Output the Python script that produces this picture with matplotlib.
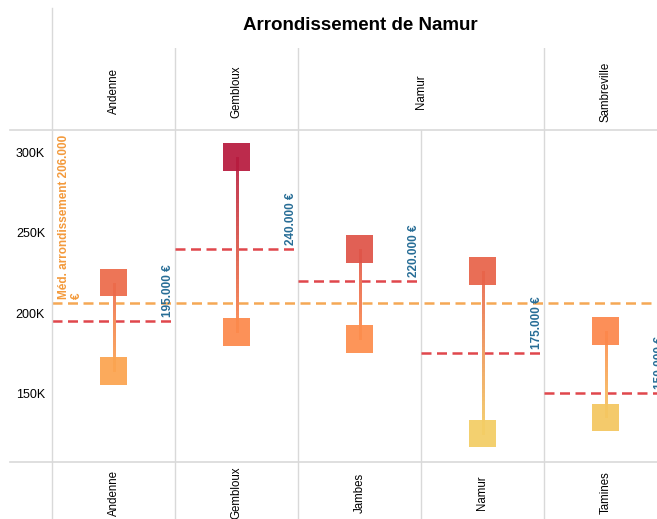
import matplotlib.pyplot as plt
import numpy as np
from matplotlib.collections import LineCollection
from matplotlib.colors import LinearSegmentedColormap, to_rgba
from matplotlib.lines import Line2D

plt.rcParams["font.family"] = ["Liberation Sans", "DejaVu Sans"]

# Data (prices in euros)
communes = ["Andenne", "Gembloux", "Jambes", "Namur", "Tamines"]
groups = ["Andenne", "Gembloux", "Namur", "Sambreville"]
group_span = [1, 1, 2, 1]
price_low = [164000, 188000, 184000, 125000, 135000]
price_high = [219000, 297000, 240000, 226000, 189000]
median_commune = [195000, 240000, 220000, 175000, 150000]
median_arr = 206000
y_ticks = [150000, 200000, 250000, 300000]
title = "Arrondissement de Namur"

W, H = 657, 519
COL = 123          # column width in px
X0 = 52            # left edge of first column
Y_TOP, Y_BOT = 130, 462

cmap = LinearSegmentedColormap.from_list(
    "prix",
    [(0.0, "#f2d166"), (0.08, "#f4c660"), (0.24, "#fba550"),
     (0.37, "#fd8a4b"), (0.55, "#ec6a4a"), (0.66, "#e05548"),
     (1.0, "#b5183e")],
)
vmin, vmax = 120000, 300000


def col(v):
    return cmap((v - vmin) / (vmax - vmin))


def fx(px):
    return px / W


def fy(py):
    return 1 - py / H


fig = plt.figure(figsize=(W / 100, H / 100), dpi=100)
xmax = (W - X0) / COL

ax = fig.add_axes([fx(X0), fy(Y_BOT), (W - X0) / W, (Y_BOT - Y_TOP) / H])
ax.set_xlim(0, xmax)
ax.set_ylim(107300, 313900)
for s in ax.spines.values():
    s.set_visible(False)
ax.set_xticks([])
ax.set_yticks(y_ticks)
ax.set_yticklabels([f"{v // 1000}K" for v in y_ticks], fontsize=9)
ax.tick_params(axis="y", length=0, pad=5)

grid_c = "#d9d9d9"
for b in range(1, len(communes)):
    ax.axvline(b, color=grid_c, lw=1, zorder=1)

# arrondissement median
ax.hlines(median_arr, 0, xmax, colors="#f5a855", lw=1.8,
          linestyles=(0, (4, 2.2)), zorder=2)
ax.annotate("Méd. arrondissement 206.000\n€", (0, median_arr),
            xytext=(4, 3), textcoords="offset points", rotation=90,
            ha="left", va="bottom", multialignment="left",
            color="#f39a3c", fontweight="bold", fontsize=8.5)

for i, (lo, hi, med) in enumerate(zip(price_low, price_high, median_commune)):
    xc = i + 0.5
    ax.hlines(med, i, i + 1, colors="#e0474c", lw=1.8,
              linestyles=(0, (4, 2.2)), zorder=2)
    ax.annotate(f"{med:,}".replace(",", ".") + " €", (i + 1, med),
                xytext=(-1, 3), textcoords="offset points", rotation=90,
                ha="right", va="bottom", color="#276d96",
                fontweight="bold", fontsize=8.5, annotation_clip=False)

    # gradient connector between the two prices, lightened a little
    ys = np.linspace(lo, hi, 40)
    segs = [[(xc, ys[k]), (xc, ys[k + 1])] for k in range(len(ys) - 1)]
    c0, c1 = np.array(to_rgba(col(lo))), np.array(to_rgba(col(hi)))
    t = np.linspace(0, 1, len(segs))[:, None]
    cols = c0 + (c1 - c0) * t
    cols[:, :3] = cols[:, :3] * 0.9 + 0.1
    ax.add_collection(LineCollection(segs, colors=cols, linewidths=2,
                                     capstyle="butt", antialiaseds=False,
                                     zorder=3))

    ax.scatter([xc, xc], [lo, hi], marker="s", s=400, c=[col(lo), col(hi)],
               linewidths=0, alpha=0.93, zorder=4)

# header with groups
hax = fig.add_axes([fx(X0), fy(Y_TOP), (W - X0) / W, (Y_TOP - 48) / H])
hax.set_xlim(0, xmax)
hax.set_ylim(0, 1)
hax.axis("off")
pos = 0
for g, span in zip(groups, group_span):
    if pos > 0:
        hax.axvline(pos, color=grid_c, lw=1)
    hax.text(pos + span / 2, 0.47, g, rotation=90, ha="center", va="center",
             fontsize=8.3)
    pos += span

# footer with communes
bax = fig.add_axes([fx(X0), 0, (W - X0) / W, (H - Y_BOT) / H])
bax.set_xlim(0, xmax)
bax.set_ylim(0, 1)
bax.axis("off")
for i, c in enumerate(communes):
    if i > 0:
        bax.axvline(i, color=grid_c, lw=1)
    bax.text(i + 0.5, 0.46, c, rotation=90, ha="center", va="center",
             fontsize=8.3)

# frame lines
for yy in (Y_TOP, Y_BOT):
    fig.add_artist(Line2D([fx(10), 1], [fy(yy), fy(yy)], color=grid_c, lw=1.2))
fig.add_artist(Line2D([fx(X0), fx(X0)], [fy(8), 0], color=grid_c, lw=1))

fig.text(fx(360), fy(25), title, ha="center", va="center",
         fontsize=13.5, fontweight="bold")

fig.savefig("out.png", dpi=100)
